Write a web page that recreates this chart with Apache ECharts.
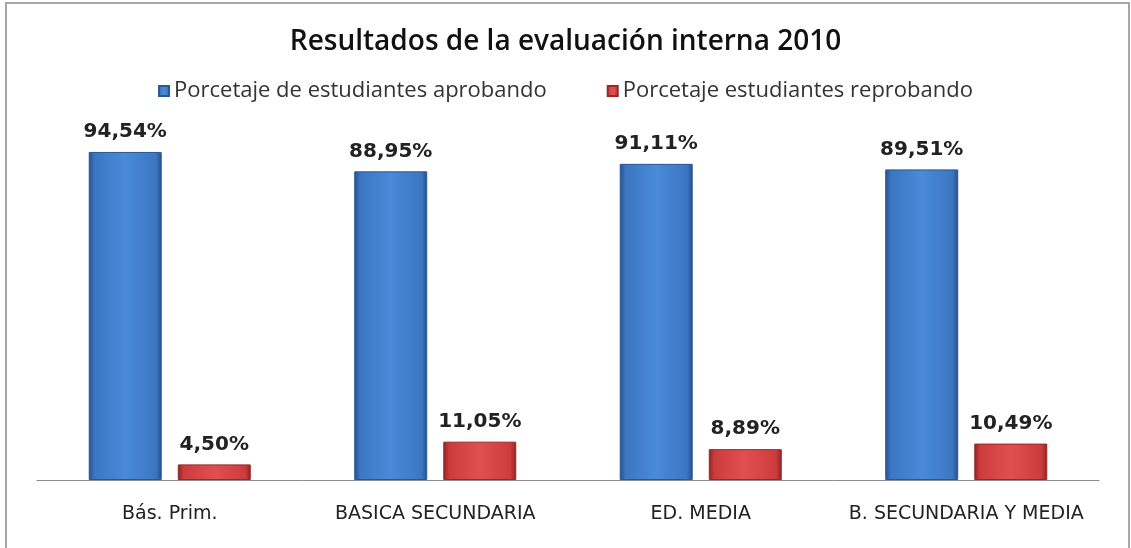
<!DOCTYPE html>
<html lang="es">
<head>
    <meta charset="UTF-8">
    <title>Resultados de la evaluación interna 2010</title>
    <script type="text/javascript" src="https://cdn.jsdelivr.net/npm/echarts@6/dist/echarts.min.js"></script>
</head>
<body style="margin:0;background:#fff">
<div id="demo" style="width: 1131px; height: 548px;"></div>
<script type="text/javascript">
var categorias = ['Bás. Prim.', 'BASICA SECUNDARIA', 'ED. MEDIA', 'B. SECUNDARIA Y MEDIA'];
var aprobando = [94.54, 88.95, 91.11, 89.51];
var reprobando = [4.50, 11.05, 8.89, 10.49];
var nombres = ['Porcetaje de estudiantes aprobando', 'Porcetaje estudiantes reprobando'];

function barra(c1, c2, c3) {
    // lados oscuros, centro claro (imitando el bisel de excel)
    return new echarts.graphic.LinearGradient(0, 0, 1, 0, [
        {offset: 0, color: c3},
        {offset: 0.08, color: c2},
        {offset: 0.5, color: c1},
        {offset: 0.92, color: c2},
        {offset: 1, color: c3}
    ]);
}

function etiqueta(p) {
    return p.value.toFixed(2).replace('.', ',') + '%';
}

var myChart = echarts.init(document.getElementById('demo'));
var option = {
    backgroundColor: '#fff',
    animation: false,
    title: {
        text: 'Resultados de la evaluación interna 2010',
        left: 'center',
        top: 23,
        textStyle: {
            fontFamily: 'Open Sans',
            fontSize: 28,
            fontWeight: 600,
            color: '#111'
        }
    },
    legend: {
        data: nombres,
        top: 75,
        left: 'center',
        itemWidth: 10,
        itemHeight: 10,
        itemGap: 60,
        icon: 'rect',
        textStyle: {
            fontFamily: 'Open Sans',
            fontSize: 22,
            color: '#333'
        }
    },
    graphic: [{
        type: 'rect',
        shape: {x: 6, y: 3, width: 1123, height: 570},
        style: {fill: 'none', stroke: '#a6a6a6', lineWidth: 2}
    }],
    grid: {
        left: 37,
        right: 32,
        top: 133,
        bottom: 68
    },
    xAxis: {
        type: 'category',
        data: categorias,
        axisTick: {show: false},
        axisLine: {lineStyle: {color: '#8c8c8c', width: 1}},
        axisLabel: {
            interval: 0,
            margin: 25,
            fontFamily: 'DejaVu Sans',
            fontSize: 19,
            color: '#222'
        }
    },
    yAxis: {
        type: 'value',
        min: 0,
        max: 100,
        show: false,
        splitLine: {show: false}
    },
    series: [
        {
            name: nombres[0],
            type: 'bar',
            data: aprobando,
            barWidth: 73,
            barGap: '22%',
            itemStyle: {
                color: barra('#4a8ad8', '#3b76c2', '#25508c'),
                borderColor: '#2a5694',
                borderWidth: 1
            },
            label: {
                show: true,
                position: 'top',
                distance: 10,
                formatter: etiqueta,
                fontFamily: 'DejaVu Sans',
                fontWeight: 'bold',
                fontSize: 20,
                color: '#222'
            }
        },
        {
            name: nombres[1],
            type: 'bar',
            data: reprobando,
            barWidth: 73,
            itemStyle: {
                color: barra('#e05050', '#cc3c3c', '#8e2424'),
                borderColor: '#962828',
                borderWidth: 1
            },
            label: {
                show: true,
                position: 'top',
                distance: 10,
                formatter: etiqueta,
                fontFamily: 'DejaVu Sans',
                fontWeight: 'bold',
                fontSize: 20,
                color: '#222'
            }
        }
    ]
};
myChart.setOption(option);
</script>
</body>
</html>
